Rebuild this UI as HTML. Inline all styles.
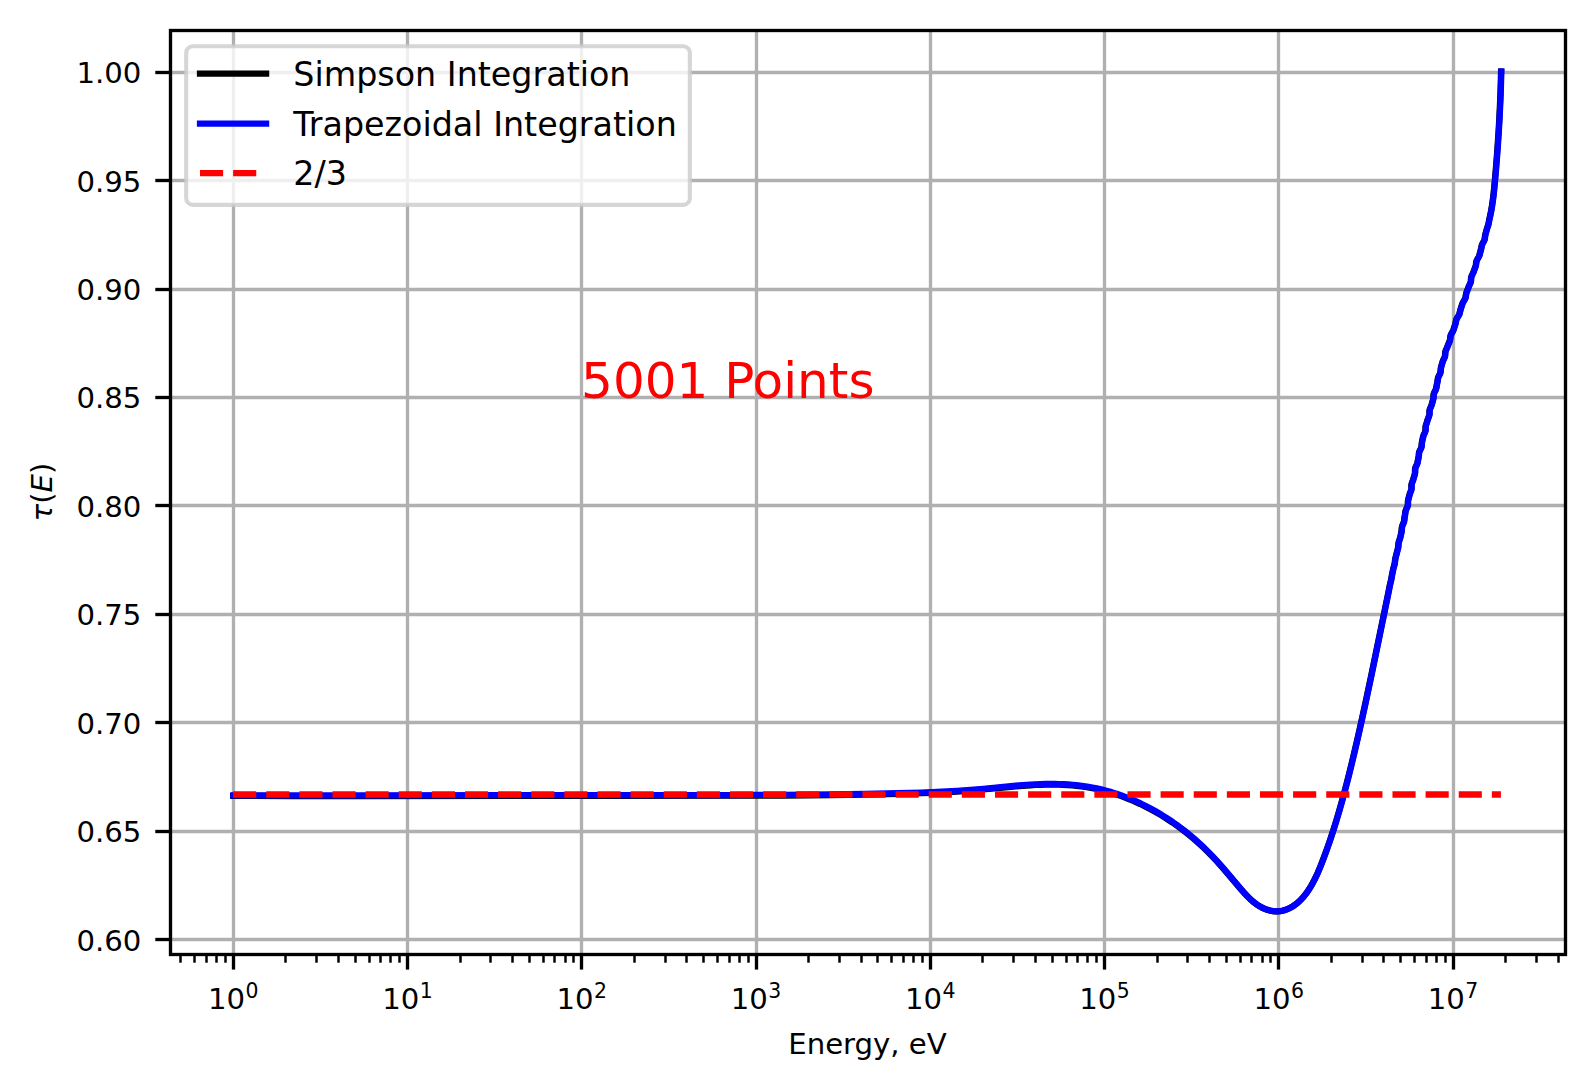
<!DOCTYPE html>
<html lang="en">
<head>
<meta charset="utf-8">
<title>tau(E) integration comparison</title>
<style>html,body{margin:0;padding:0;background:#ffffff;}body{width:1594px;height:1090px;overflow:hidden;}</style>
</head>
<body>
<svg width="1594" height="1090" viewBox="0 0 1594 1090" style="display:block">
<rect x="0" y="0" width="1594" height="1090" fill="#ffffff"/>
<g stroke="#b0b0b0" stroke-width="3.333" fill="none" shape-rendering="auto">
<line x1="233.5" y1="30.5" x2="233.5" y2="954.5"/>
<line x1="407.5" y1="30.5" x2="407.5" y2="954.5"/>
<line x1="581.5" y1="30.5" x2="581.5" y2="954.5"/>
<line x1="756.5" y1="30.5" x2="756.5" y2="954.5"/>
<line x1="930.5" y1="30.5" x2="930.5" y2="954.5"/>
<line x1="1104.5" y1="30.5" x2="1104.5" y2="954.5"/>
<line x1="1278.5" y1="30.5" x2="1278.5" y2="954.5"/>
<line x1="1453.5" y1="30.5" x2="1453.5" y2="954.5"/>
<line x1="170.5" y1="72.5" x2="1565.5" y2="72.5"/>
<line x1="170.5" y1="180.5" x2="1565.5" y2="180.5"/>
<line x1="170.5" y1="289.5" x2="1565.5" y2="289.5"/>
<line x1="170.5" y1="397.5" x2="1565.5" y2="397.5"/>
<line x1="170.5" y1="505.5" x2="1565.5" y2="505.5"/>
<line x1="170.5" y1="614.5" x2="1565.5" y2="614.5"/>
<line x1="170.5" y1="722.5" x2="1565.5" y2="722.5"/>
<line x1="170.5" y1="831.5" x2="1565.5" y2="831.5"/>
<line x1="170.5" y1="939.5" x2="1565.5" y2="939.5"/>
</g>
<g stroke="#000000" fill="none">
<line x1="233.5" y1="954.5" x2="233.5" y2="969.6" stroke-width="3.333"/>
<line x1="407.5" y1="954.5" x2="407.5" y2="969.6" stroke-width="3.333"/>
<line x1="581.5" y1="954.5" x2="581.5" y2="969.6" stroke-width="3.333"/>
<line x1="756.5" y1="954.5" x2="756.5" y2="969.6" stroke-width="3.333"/>
<line x1="930.5" y1="954.5" x2="930.5" y2="969.6" stroke-width="3.333"/>
<line x1="1104.5" y1="954.5" x2="1104.5" y2="969.6" stroke-width="3.333"/>
<line x1="1278.5" y1="954.5" x2="1278.5" y2="969.6" stroke-width="3.333"/>
<line x1="1453.5" y1="954.5" x2="1453.5" y2="969.6" stroke-width="3.333"/>
<line x1="170.5" y1="72.5" x2="155.3" y2="72.5" stroke-width="3.333"/>
<line x1="170.5" y1="180.5" x2="155.3" y2="180.5" stroke-width="3.333"/>
<line x1="170.5" y1="289.5" x2="155.3" y2="289.5" stroke-width="3.333"/>
<line x1="170.5" y1="397.5" x2="155.3" y2="397.5" stroke-width="3.333"/>
<line x1="170.5" y1="505.5" x2="155.3" y2="505.5" stroke-width="3.333"/>
<line x1="170.5" y1="614.5" x2="155.3" y2="614.5" stroke-width="3.333"/>
<line x1="170.5" y1="722.5" x2="155.3" y2="722.5" stroke-width="3.333"/>
<line x1="170.5" y1="831.5" x2="155.3" y2="831.5" stroke-width="3.333"/>
<line x1="170.5" y1="939.5" x2="155.3" y2="939.5" stroke-width="3.333"/>
<line x1="180.5" y1="954.5" x2="180.5" y2="962.7" stroke-width="2.5"/>
<line x1="194.5" y1="954.5" x2="194.5" y2="962.7" stroke-width="2.5"/>
<line x1="206.5" y1="954.5" x2="206.5" y2="962.7" stroke-width="2.5"/>
<line x1="216.5" y1="954.5" x2="216.5" y2="962.7" stroke-width="2.5"/>
<line x1="225.5" y1="954.5" x2="225.5" y2="962.7" stroke-width="2.5"/>
<line x1="285.5" y1="954.5" x2="285.5" y2="962.7" stroke-width="2.5"/>
<line x1="316.5" y1="954.5" x2="316.5" y2="962.7" stroke-width="2.5"/>
<line x1="338.5" y1="954.5" x2="338.5" y2="962.7" stroke-width="2.5"/>
<line x1="355.5" y1="954.5" x2="355.5" y2="962.7" stroke-width="2.5"/>
<line x1="369.5" y1="954.5" x2="369.5" y2="962.7" stroke-width="2.5"/>
<line x1="380.5" y1="954.5" x2="380.5" y2="962.7" stroke-width="2.5"/>
<line x1="390.5" y1="954.5" x2="390.5" y2="962.7" stroke-width="2.5"/>
<line x1="399.5" y1="954.5" x2="399.5" y2="962.7" stroke-width="2.5"/>
<line x1="460.5" y1="954.5" x2="460.5" y2="962.7" stroke-width="2.5"/>
<line x1="490.5" y1="954.5" x2="490.5" y2="962.7" stroke-width="2.5"/>
<line x1="512.5" y1="954.5" x2="512.5" y2="962.7" stroke-width="2.5"/>
<line x1="529.5" y1="954.5" x2="529.5" y2="962.7" stroke-width="2.5"/>
<line x1="543.5" y1="954.5" x2="543.5" y2="962.7" stroke-width="2.5"/>
<line x1="554.5" y1="954.5" x2="554.5" y2="962.7" stroke-width="2.5"/>
<line x1="565.5" y1="954.5" x2="565.5" y2="962.7" stroke-width="2.5"/>
<line x1="573.5" y1="954.5" x2="573.5" y2="962.7" stroke-width="2.5"/>
<line x1="634.5" y1="954.5" x2="634.5" y2="962.7" stroke-width="2.5"/>
<line x1="665.5" y1="954.5" x2="665.5" y2="962.7" stroke-width="2.5"/>
<line x1="686.5" y1="954.5" x2="686.5" y2="962.7" stroke-width="2.5"/>
<line x1="703.5" y1="954.5" x2="703.5" y2="962.7" stroke-width="2.5"/>
<line x1="717.5" y1="954.5" x2="717.5" y2="962.7" stroke-width="2.5"/>
<line x1="729.5" y1="954.5" x2="729.5" y2="962.7" stroke-width="2.5"/>
<line x1="739.5" y1="954.5" x2="739.5" y2="962.7" stroke-width="2.5"/>
<line x1="748.5" y1="954.5" x2="748.5" y2="962.7" stroke-width="2.5"/>
<line x1="808.5" y1="954.5" x2="808.5" y2="962.7" stroke-width="2.5"/>
<line x1="839.5" y1="954.5" x2="839.5" y2="962.7" stroke-width="2.5"/>
<line x1="861.5" y1="954.5" x2="861.5" y2="962.7" stroke-width="2.5"/>
<line x1="877.5" y1="954.5" x2="877.5" y2="962.7" stroke-width="2.5"/>
<line x1="891.5" y1="954.5" x2="891.5" y2="962.7" stroke-width="2.5"/>
<line x1="903.5" y1="954.5" x2="903.5" y2="962.7" stroke-width="2.5"/>
<line x1="913.5" y1="954.5" x2="913.5" y2="962.7" stroke-width="2.5"/>
<line x1="922.5" y1="954.5" x2="922.5" y2="962.7" stroke-width="2.5"/>
<line x1="982.5" y1="954.5" x2="982.5" y2="962.7" stroke-width="2.5"/>
<line x1="1013.5" y1="954.5" x2="1013.5" y2="962.7" stroke-width="2.5"/>
<line x1="1035.5" y1="954.5" x2="1035.5" y2="962.7" stroke-width="2.5"/>
<line x1="1052.5" y1="954.5" x2="1052.5" y2="962.7" stroke-width="2.5"/>
<line x1="1066.5" y1="954.5" x2="1066.5" y2="962.7" stroke-width="2.5"/>
<line x1="1077.5" y1="954.5" x2="1077.5" y2="962.7" stroke-width="2.5"/>
<line x1="1087.5" y1="954.5" x2="1087.5" y2="962.7" stroke-width="2.5"/>
<line x1="1096.5" y1="954.5" x2="1096.5" y2="962.7" stroke-width="2.5"/>
<line x1="1157.5" y1="954.5" x2="1157.5" y2="962.7" stroke-width="2.5"/>
<line x1="1187.5" y1="954.5" x2="1187.5" y2="962.7" stroke-width="2.5"/>
<line x1="1209.5" y1="954.5" x2="1209.5" y2="962.7" stroke-width="2.5"/>
<line x1="1226.5" y1="954.5" x2="1226.5" y2="962.7" stroke-width="2.5"/>
<line x1="1240.5" y1="954.5" x2="1240.5" y2="962.7" stroke-width="2.5"/>
<line x1="1251.5" y1="954.5" x2="1251.5" y2="962.7" stroke-width="2.5"/>
<line x1="1262.5" y1="954.5" x2="1262.5" y2="962.7" stroke-width="2.5"/>
<line x1="1270.5" y1="954.5" x2="1270.5" y2="962.7" stroke-width="2.5"/>
<line x1="1331.5" y1="954.5" x2="1331.5" y2="962.7" stroke-width="2.5"/>
<line x1="1362.5" y1="954.5" x2="1362.5" y2="962.7" stroke-width="2.5"/>
<line x1="1383.5" y1="954.5" x2="1383.5" y2="962.7" stroke-width="2.5"/>
<line x1="1400.5" y1="954.5" x2="1400.5" y2="962.7" stroke-width="2.5"/>
<line x1="1414.5" y1="954.5" x2="1414.5" y2="962.7" stroke-width="2.5"/>
<line x1="1426.5" y1="954.5" x2="1426.5" y2="962.7" stroke-width="2.5"/>
<line x1="1436.5" y1="954.5" x2="1436.5" y2="962.7" stroke-width="2.5"/>
<line x1="1445.5" y1="954.5" x2="1445.5" y2="962.7" stroke-width="2.5"/>
<line x1="1505.5" y1="954.5" x2="1505.5" y2="962.7" stroke-width="2.5"/>
<line x1="1536.5" y1="954.5" x2="1536.5" y2="962.7" stroke-width="2.5"/>
<line x1="1558.5" y1="954.5" x2="1558.5" y2="962.7" stroke-width="2.5"/>
</g>
<path d="M233.25,795.96 L293.18,796.06 L359.94,796.07 L594.33,795.76 L727.85,795.71 L756.67,795.64 L783.22,795.52 L807.50,795.34 L830.25,795.11 L865.14,794.59 L897.75,793.91 L909.88,793.58 L921.25,793.21 L931.86,792.81 L941.71,792.36 L956.86,791.52 L970.48,790.57 L983.33,789.48 L1008.27,787.07 L1018.85,786.12 L1030.19,785.29 L1035.49,784.99 L1040.03,784.80 L1045.33,784.64 L1049.88,784.59 L1054.43,784.60 L1058.98,784.70 L1063.53,784.88 L1068.08,785.15 L1072.62,785.50 L1076.40,785.87 L1081.68,786.50 L1086.93,787.26 L1092.17,788.16 L1096.63,789.05 L1101.07,790.05 L1106.21,791.36 L1110.58,792.60 L1115.65,794.18 L1120.68,795.90 L1125.66,797.75 L1130.59,799.73 L1135.47,801.83 L1140.30,804.05 L1145.07,806.39 L1150.46,809.19 L1155.11,811.74 L1161.01,815.17 L1166.80,818.77 L1172.48,822.53 L1178.06,826.45 L1183.51,830.53 L1188.86,834.76 L1194.08,839.13 L1199.73,844.14 L1204.14,848.27 L1208.44,852.50 L1212.63,856.83 L1216.74,861.24 L1220.26,865.16 L1224.24,869.70 L1241.02,889.38 L1243.54,892.27 L1246.12,895.10 L1248.78,897.83 L1251.55,900.42 L1254.45,902.84 L1256.89,904.63 L1259.44,906.26 L1261.43,907.38 L1263.50,908.38 L1265.61,909.26 L1267.78,910.00 L1269.97,910.60 L1272.19,911.04 L1274.43,911.32 L1276.67,911.41 L1278.16,911.37 L1280.38,911.14 L1282.57,910.72 L1284.74,910.13 L1286.85,909.38 L1288.91,908.48 L1290.24,907.82 L1291.55,907.10 L1292.82,906.33 L1294.67,905.08 L1296.46,903.72 L1298.18,902.27 L1299.84,900.73 L1300.91,899.65 L1302.47,897.98 L1303.96,896.23 L1305.40,894.42 L1306.78,892.55 L1308.11,890.64 L1309.80,888.01 L1311.01,886.01 L1312.55,883.29 L1315.05,878.48 L1316.38,875.72 L1317.64,872.95 L1320.29,866.67 L1323.56,858.25 L1326.92,849.05 L1330.13,839.78 L1333.19,830.45 L1336.34,820.34 L1339.35,810.18 L1341.62,802.15 L1344.02,793.37 L1346.54,783.82 L1348.97,774.24 L1351.52,763.91 L1354.00,753.56 L1356.76,741.72 L1359.46,729.87 L1362.43,716.54 L1365.34,703.19 L1371.64,673.52 L1387.86,594.82 L1389.77,585.17 L1391.04,579.97 L1391.95,574.78 L1393.02,569.58 L1393.37,568.09 L1394.23,565.13 L1394.57,563.64 L1394.78,562.16 L1395.02,559.93 L1395.28,558.45 L1396.96,551.77 L1397.58,549.54 L1397.94,548.06 L1398.16,546.57 L1398.29,544.35 L1398.49,542.86 L1398.89,541.38 L1399.69,539.16 L1400.13,537.67 L1401.26,532.48 L1401.51,531.00 L1401.73,528.03 L1401.83,527.29 L1401.99,526.55 L1402.51,525.07 L1403.49,522.84 L1403.95,521.36 L1404.18,519.88 L1404.41,517.66 L1404.93,514.69 L1405.34,511.73 L1405.49,510.99 L1405.70,510.25 L1405.98,509.51 L1407.03,507.29 L1407.34,506.55 L1407.57,505.81 L1407.73,505.07 L1407.80,504.33 L1407.84,501.37 L1408.08,499.89 L1409.65,493.97 L1410.81,491.01 L1411.07,490.27 L1411.25,489.53 L1411.36,488.79 L1411.39,488.05 L1411.32,485.83 L1411.36,485.09 L1411.48,484.36 L1411.92,482.88 L1413.04,479.92 L1414.72,474.01 L1414.95,472.53 L1414.99,469.58 L1415.07,468.84 L1415.23,468.11 L1415.48,467.37 L1416.84,464.42 L1417.34,462.94 L1418.47,457.04 L1418.66,455.57 L1418.85,453.35 L1418.99,452.62 L1419.20,451.88 L1419.49,451.14 L1420.59,448.93 L1420.93,448.20 L1421.20,447.46 L1421.39,446.72 L1421.51,445.99 L1421.66,443.78 L1421.84,442.31 L1422.93,437.15 L1423.35,435.68 L1423.64,434.95 L1424.69,432.74 L1424.99,432.01 L1425.23,431.27 L1425.38,430.54 L1425.45,429.80 L1425.46,427.60 L1425.50,426.86 L1425.61,426.13 L1425.77,425.39 L1426.75,422.45 L1427.63,419.52 L1428.75,416.58 L1429.20,415.11 L1429.32,414.37 L1429.38,413.64 L1429.37,411.44 L1429.42,410.70 L1429.55,409.97 L1429.75,409.24 L1430.03,408.50 L1431.03,406.30 L1431.57,404.83 L1432.98,399.69 L1433.28,398.23 L1433.35,397.49 L1433.46,395.29 L1433.55,394.56 L1433.72,393.82 L1433.97,393.09 L1434.30,392.35 L1435.44,390.15 L1435.76,389.42 L1436.01,388.68 L1436.33,387.21 L1436.80,384.28 L1437.26,382.07 L1437.85,378.40 L1438.05,377.66 L1438.32,376.93 L1439.79,373.99 L1440.09,373.26 L1440.32,372.52 L1440.46,371.79 L1440.54,371.06 L1440.66,368.86 L1440.76,368.12 L1441.09,366.66 L1442.59,361.55 L1443.20,360.10 L1444.27,357.91 L1444.57,357.19 L1444.79,356.46 L1444.93,355.74 L1445.01,355.01 L1445.12,352.84 L1445.22,352.12 L1445.39,351.39 L1445.93,349.95 L1447.21,347.06 L1448.30,344.18 L1449.50,341.30 L1449.92,339.86 L1450.04,339.15 L1450.23,336.99 L1450.35,336.28 L1450.54,335.56 L1450.81,334.84 L1451.15,334.13 L1452.76,331.26 L1453.38,329.83 L1455.24,324.11 L1455.57,322.69 L1455.97,320.55 L1456.17,319.83 L1456.44,319.12 L1456.79,318.41 L1458.55,315.56 L1458.93,314.85 L1459.24,314.14 L1459.66,312.71 L1460.31,309.87 L1462.13,304.19 L1462.40,303.48 L1463.09,302.06 L1464.79,299.21 L1465.12,298.50 L1465.38,297.79 L1465.55,297.08 L1465.67,296.37 L1465.93,294.23 L1466.29,292.80 L1467.69,289.21 L1468.47,287.05 L1469.08,285.61 L1470.11,283.44 L1470.40,282.72 L1470.62,282.00 L1470.77,281.27 L1470.85,280.55 L1470.95,278.38 L1471.05,277.66 L1471.22,276.93 L1471.79,275.49 L1473.18,272.60 L1475.32,266.85 L1475.73,265.42 L1475.86,264.70 L1476.10,262.55 L1476.23,261.83 L1476.42,261.11 L1476.69,260.40 L1477.04,259.68 L1478.69,256.80 L1479.28,255.36 L1480.22,251.76 L1480.83,249.60 L1481.15,248.15 L1481.55,245.98 L1481.74,245.26 L1481.99,244.53 L1482.71,243.08 L1483.93,240.91 L1484.25,240.18 L1484.48,239.45 L1484.63,238.73 L1484.99,235.81 L1485.31,234.35 L1486.72,229.24 L1487.96,225.57 L1488.38,224.10 L1489.19,219.67 L1490.20,215.23 L1491.07,210.77 L1491.96,205.54 L1492.73,200.29 L1493.47,194.26 L1494.10,188.22 L1494.95,179.14 L1495.86,168.55 L1496.88,155.69 L1497.75,143.58 L1498.54,131.48 L1499.24,119.37 L1499.84,107.26 L1500.35,95.14 L1500.75,83.00 L1501.05,71.61" fill="none" stroke="#000000" stroke-width="6.25" stroke-linecap="square" stroke-linejoin="round"/>
<path d="M233.40,795.26 L293.33,795.36 L360.09,795.37 L594.48,795.06 L728.00,795.01 L756.82,794.94 L783.37,794.82 L807.65,794.64 L830.40,794.41 L865.29,793.89 L897.90,793.21 L910.03,792.88 L921.40,792.51 L932.01,792.11 L941.86,791.66 L957.01,790.82 L970.63,789.87 L983.48,788.78 L1008.42,786.37 L1019.00,785.42 L1030.34,784.59 L1035.64,784.29 L1040.18,784.10 L1045.48,783.94 L1050.03,783.89 L1054.58,783.90 L1059.13,784.00 L1063.68,784.18 L1068.23,784.45 L1072.77,784.80 L1076.55,785.17 L1081.83,785.80 L1087.08,786.56 L1092.32,787.46 L1096.78,788.35 L1101.22,789.35 L1106.36,790.66 L1111.46,792.12 L1116.52,793.72 L1121.54,795.45 L1126.51,797.32 L1131.44,799.32 L1136.31,801.44 L1141.13,803.68 L1145.90,806.03 L1150.61,808.49 L1155.26,811.07 L1161.16,814.53 L1166.95,818.16 L1172.63,821.96 L1178.21,825.91 L1183.66,830.02 L1189.01,834.27 L1194.23,838.67 L1199.88,843.72 L1204.29,847.87 L1208.59,852.13 L1212.78,856.48 L1216.89,860.91 L1220.41,864.85 L1224.39,869.41 L1241.17,889.19 L1243.69,892.09 L1246.27,894.93 L1248.93,897.68 L1251.70,900.28 L1254.01,902.25 L1256.42,904.07 L1258.94,905.75 L1260.91,906.90 L1262.95,907.94 L1265.05,908.86 L1266.48,909.40 L1267.93,909.88 L1270.12,910.48 L1272.34,910.92 L1274.58,911.20 L1276.82,911.29 L1278.31,911.25 L1280.53,911.02 L1282.72,910.60 L1284.89,910.01 L1287.00,909.26 L1289.06,908.36 L1290.39,907.70 L1291.70,906.98 L1292.97,906.21 L1294.82,904.96 L1296.61,903.60 L1298.33,902.15 L1299.45,901.13 L1301.07,899.53 L1302.62,897.86 L1304.12,896.11 L1305.57,894.30 L1306.95,892.43 L1308.29,890.52 L1309.99,887.89 L1311.20,885.89 L1312.75,883.17 L1315.25,878.36 L1316.58,875.60 L1317.85,872.83 L1320.51,866.55 L1323.79,858.13 L1327.16,848.93 L1330.38,839.66 L1333.68,829.61 L1336.83,819.50 L1339.84,809.33 L1342.12,801.30 L1344.52,792.51 L1346.84,783.70 L1349.27,774.12 L1351.82,763.79 L1354.30,753.44 L1357.06,741.60 L1359.93,729.01 L1365.64,703.07 L1371.94,673.40 L1388.16,594.70 L1390.07,585.05 L1391.34,579.85 L1392.25,574.66 L1393.32,569.46 L1393.67,567.97 L1394.53,565.01 L1394.87,563.52 L1395.08,562.04 L1395.32,559.81 L1395.58,558.33 L1397.26,551.65 L1397.88,549.42 L1398.24,547.94 L1398.46,546.45 L1398.59,544.23 L1398.79,542.74 L1399.19,541.26 L1399.99,539.04 L1400.43,537.55 L1401.56,532.36 L1401.81,530.88 L1402.03,527.91 L1402.13,527.17 L1402.29,526.43 L1402.81,524.95 L1403.79,522.72 L1404.25,521.24 L1404.48,519.76 L1404.71,517.54 L1405.23,514.57 L1405.64,511.61 L1405.79,510.87 L1406.00,510.13 L1406.28,509.39 L1407.33,507.17 L1407.64,506.43 L1407.87,505.69 L1408.03,504.95 L1408.10,504.21 L1408.14,501.25 L1408.38,499.77 L1409.95,493.85 L1411.11,490.89 L1411.37,490.15 L1411.55,489.41 L1411.66,488.67 L1411.69,487.93 L1411.62,485.71 L1411.66,484.97 L1411.78,484.24 L1412.22,482.76 L1413.34,479.80 L1415.02,473.89 L1415.25,472.41 L1415.29,469.46 L1415.37,468.72 L1415.53,467.99 L1415.78,467.25 L1417.14,464.30 L1417.64,462.82 L1418.77,456.92 L1418.96,455.45 L1419.15,453.23 L1419.29,452.50 L1419.50,451.76 L1419.79,451.02 L1420.89,448.81 L1421.23,448.08 L1421.50,447.34 L1421.69,446.60 L1421.81,445.87 L1421.96,443.66 L1422.14,442.19 L1423.23,437.03 L1423.65,435.56 L1423.94,434.83 L1424.99,432.62 L1425.29,431.89 L1425.53,431.15 L1425.68,430.42 L1425.75,429.68 L1425.76,427.48 L1425.80,426.74 L1425.91,426.01 L1426.07,425.27 L1427.05,422.33 L1427.93,419.40 L1429.05,416.46 L1429.50,414.99 L1429.62,414.25 L1429.68,413.52 L1429.67,411.32 L1429.72,410.58 L1429.85,409.85 L1430.05,409.12 L1430.33,408.38 L1431.33,406.18 L1431.87,404.71 L1433.28,399.57 L1433.58,398.11 L1433.65,397.37 L1433.76,395.17 L1433.85,394.44 L1434.02,393.70 L1434.27,392.97 L1434.60,392.23 L1435.74,390.03 L1436.06,389.30 L1436.31,388.56 L1436.63,387.09 L1437.10,384.16 L1437.56,381.95 L1438.15,378.28 L1438.35,377.54 L1438.62,376.81 L1440.09,373.87 L1440.39,373.14 L1440.62,372.40 L1440.76,371.67 L1440.84,370.94 L1440.96,368.74 L1441.06,368.00 L1441.39,366.54 L1442.89,361.43 L1443.50,359.98 L1444.57,357.79 L1444.87,357.07 L1445.09,356.34 L1445.23,355.62 L1445.31,354.89 L1445.42,352.72 L1445.52,352.00 L1445.69,351.27 L1446.23,349.83 L1447.51,346.94 L1448.60,344.06 L1449.80,341.18 L1450.22,339.74 L1450.34,339.03 L1450.53,336.87 L1450.65,336.16 L1450.84,335.44 L1451.11,334.72 L1451.45,334.01 L1453.06,331.14 L1453.68,329.71 L1455.54,323.99 L1455.87,322.57 L1456.27,320.43 L1456.47,319.71 L1456.74,319.00 L1457.09,318.29 L1458.85,315.44 L1459.23,314.73 L1459.54,314.02 L1459.96,312.59 L1460.61,309.75 L1462.43,304.07 L1462.70,303.36 L1463.39,301.94 L1465.09,299.09 L1465.42,298.38 L1465.68,297.67 L1465.85,296.96 L1465.97,296.25 L1466.23,294.11 L1466.59,292.68 L1467.99,289.09 L1468.77,286.93 L1469.38,285.49 L1470.41,283.32 L1470.70,282.60 L1470.92,281.88 L1471.07,281.15 L1471.15,280.43 L1471.25,278.26 L1471.35,277.54 L1471.52,276.81 L1472.09,275.37 L1473.48,272.48 L1475.62,266.73 L1476.03,265.30 L1476.16,264.58 L1476.40,262.43 L1476.53,261.71 L1476.72,260.99 L1476.99,260.28 L1477.34,259.56 L1478.99,256.68 L1479.58,255.24 L1480.52,251.64 L1481.13,249.48 L1481.45,248.03 L1481.85,245.86 L1482.04,245.14 L1482.29,244.41 L1483.01,242.96 L1484.23,240.79 L1484.55,240.06 L1484.78,239.33 L1484.93,238.61 L1485.29,235.69 L1485.61,234.23 L1487.02,229.12 L1488.26,225.45 L1488.68,223.98 L1489.49,219.55 L1490.50,215.11 L1491.37,210.65 L1492.26,205.42 L1493.03,200.17 L1493.77,194.14 L1494.40,188.10 L1495.25,179.02 L1496.16,168.43 L1497.18,155.57 L1498.05,143.46 L1498.84,131.36 L1499.54,119.25 L1500.14,107.14 L1500.65,95.02 L1501.05,82.88 L1501.35,71.49" fill="none" stroke="#0000ff" stroke-width="6.25" stroke-linecap="square" stroke-linejoin="round"/>
<line x1="233.1" y1="794.45" x2="1500.9" y2="794.45" stroke="#ff0000" stroke-width="6.6" stroke-dasharray="23.125 10" fill="none"/>
<rect x="170.5" y="30.5" width="1395.0" height="924.0" fill="none" stroke="#000000" stroke-width="3.333" stroke-linejoin="miter"/>
<g font-family="'DejaVu Sans', 'Liberation Sans', sans-serif" font-size="29.167" fill="#000000" text-anchor="end">
<text x="141.3" y="83.20">1.00</text>
<text x="141.3" y="191.57">0.95</text>
<text x="141.3" y="299.94">0.90</text>
<text x="141.3" y="408.31">0.85</text>
<text x="141.3" y="516.68">0.80</text>
<text x="141.3" y="625.05">0.75</text>
<text x="141.3" y="734.12">0.70</text>
<text x="141.3" y="841.79">0.65</text>
<text x="141.3" y="950.91">0.60</text>
</g>
<g font-family="'DejaVu Sans', 'Liberation Sans', sans-serif" fill="#000000">
<text x="207.91" y="1009.3" font-size="29.167">10<tspan font-size="20.417" dx="0.5" dy="-11.3">0</tspan></text>
<text x="382.16" y="1009.3" font-size="29.167">10<tspan font-size="20.417" dx="0.5" dy="-11.3">1</tspan></text>
<text x="556.41" y="1009.3" font-size="29.167">10<tspan font-size="20.417" dx="0.5" dy="-11.3">2</tspan></text>
<text x="730.66" y="1009.3" font-size="29.167">10<tspan font-size="20.417" dx="0.5" dy="-11.3">3</tspan></text>
<text x="904.91" y="1009.3" font-size="29.167">10<tspan font-size="20.417" dx="0.5" dy="-11.3">4</tspan></text>
<text x="1079.16" y="1009.3" font-size="29.167">10<tspan font-size="20.417" dx="0.5" dy="-11.3">5</tspan></text>
<text x="1253.41" y="1009.3" font-size="29.167">10<tspan font-size="20.417" dx="0.5" dy="-11.3">6</tspan></text>
<text x="1427.66" y="1009.3" font-size="29.167">10<tspan font-size="20.417" dx="0.5" dy="-11.3">7</tspan></text>
</g>
<text x="867.5" y="1054.3" font-family="'DejaVu Sans', 'Liberation Sans', sans-serif" font-size="29.167" text-anchor="middle" fill="#000000">Energy, eV</text>
<text transform="translate(52.2,492) rotate(-90)" font-family="'DejaVu Sans', 'Liberation Sans', sans-serif" font-size="29.167" text-anchor="middle" fill="#000000"><tspan font-style="italic">τ</tspan>(<tspan font-style="italic">E</tspan>)</text>
<text x="581.1" y="397.7" font-family="'DejaVu Sans', 'Liberation Sans', sans-serif" font-size="50" fill="#ff0000">5001 Points</text>
<rect x="186.2" y="46.2" width="503.65" height="158.65" rx="6.7" ry="6.7" fill="#ffffff" fill-opacity="0.8" stroke="#cccccc" stroke-opacity="0.8" stroke-width="4.1"/>
<line x1="200" y1="73.7" x2="266.1" y2="73.7" stroke="#000000" stroke-width="6.25" stroke-linecap="square"/>
<text x="293.33" y="85.9" font-family="'DejaVu Sans', 'Liberation Sans', sans-serif" font-size="33.333" fill="#000000">Simpson Integration</text>
<line x1="200" y1="123.7" x2="266.1" y2="123.7" stroke="#0000ff" stroke-width="6.25" stroke-linecap="square"/>
<text x="293.33" y="136.0" font-family="'DejaVu Sans', 'Liberation Sans', sans-serif" font-size="33.333" fill="#000000">Trapezoidal Integration</text>
<line x1="200" y1="173.2" x2="266" y2="173.2" stroke="#ff0000" stroke-width="6.25" stroke-dasharray="23.125 10"/>
<text x="293.33" y="185.4" font-family="'DejaVu Sans', 'Liberation Sans', sans-serif" font-size="33.333" fill="#000000">2/3</text>
</svg>
</body>
</html>
